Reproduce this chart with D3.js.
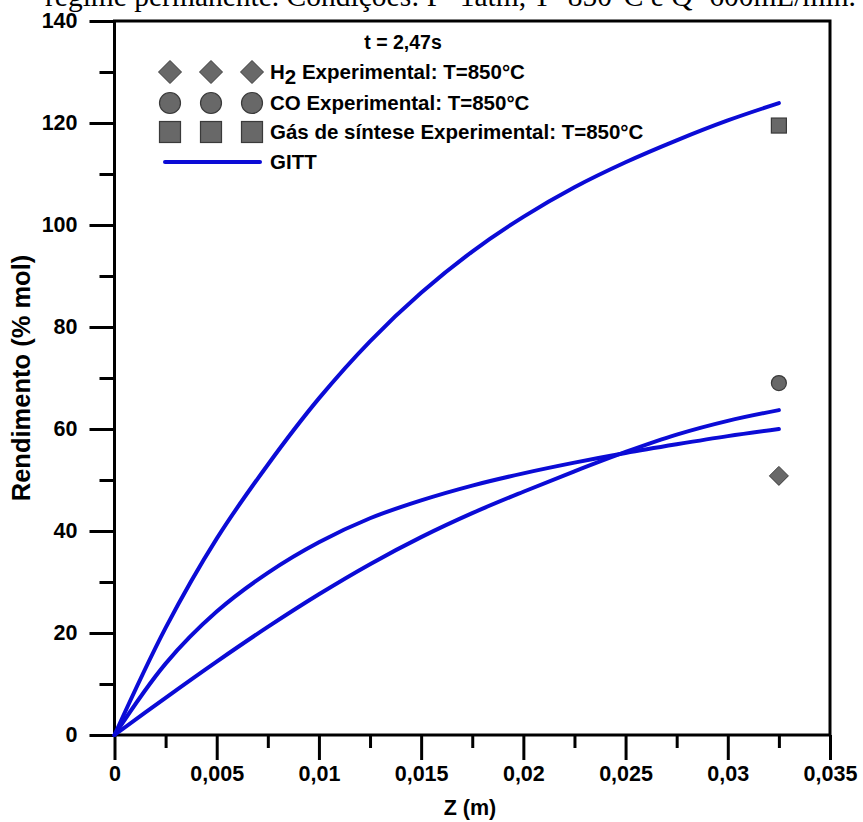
<!DOCTYPE html>
<html>
<head>
<meta charset="utf-8">
<script src="https://cdn.jsdelivr.net/npm/d3@7"></script>
<style>
  html, body { margin: 0; padding: 0; background: #fff; }
  svg { display: block; }
  text { font-family: "Liberation Sans", Arial, sans-serif; }
</style>
</head>
<body>
<svg id="chart" width="863" height="822"></svg>
<script>
// Axial position along the reactor (m)
const zGitt = [0, 0.0025, 0.005, 0.0075, 0.01, 0.0125, 0.015, 0.0175, 0.02, 0.0225, 0.025, 0.0275, 0.03, 0.0325];
// GITT yields (% mol)
const h2Gitt     = [0, 14.0, 24.2, 31.8, 37.8, 42.5, 46.0, 48.9, 51.3, 53.4, 55.3, 57.0, 58.6, 60.0];
const coGitt     = [0, 7.3, 14.4, 21.2, 27.6, 33.5, 38.8, 43.5, 47.7, 51.7, 55.5, 58.9, 61.6, 63.7];
const syngasGitt = [0, 21.0, 38.5, 53.0, 66.0, 77.2, 86.7, 94.8, 101.6, 107.4, 112.3, 116.6, 120.5, 123.9];

// Experimental points at the reactor outlet, T = 850 °C
const zExp = [0.0325];
const h2Exp = [50.8];
const coExp = [69.0];
const syngasExp = [119.5];

// Axis ticks
const xMajor = [0, 0.005, 0.01, 0.015, 0.02, 0.025, 0.03, 0.035];
const xMajorLabels = ["0", "0,005", "0,01", "0,015", "0,02", "0,025", "0,03", "0,035"];
const xMinor = [0.0025, 0.0075, 0.0125, 0.0175, 0.0225, 0.0275, 0.0325];
const yMajor = [0, 20, 40, 60, 80, 100, 120, 140];
const yMajorLabels = ["0", "20", "40", "60", "80", "100", "120", "140"];
const yMinor = [10, 30, 50, 70, 90, 110, 130];

const legendLabels = ["Experimental: T=850°C", "CO Experimental: T=850°C", "Gás de síntese Experimental: T=850°C", "GITT"];

const svg = d3.select("#chart");
const plot = { left: 114.5, right: 830, top: 21, bottom: 735 };

const x = d3.scaleLinear().domain([0, 0.035]).range([plot.left, plot.right]);
const y = d3.scaleLinear().domain([0, 140]).range([plot.bottom, plot.top]);

const lineBlue = "#0b0bd6";
const markerFill = "#686868";
const markerStroke = "#3a3a3a";
const tickFont = "21.5px";

// Caption line (partially out of view at the top)
svg.append("text")
  .attr("x", 45).attr("y", 6)
  .style("font-family", "'Liberation Serif', 'Times New Roman', serif")
  .style("font-size", "29.5px")
  .attr("fill", "#000")
  .text("regime permanente. Condições: P=1atm, T=850°C e Q=600mL/min.");

function styleAxis(g) {
  g.selectAll(".domain").remove();
  g.selectAll("line").attr("stroke", "#000").attr("stroke-width", 3);
  g.selectAll("text")
    .attr("fill", "#000")
    .style("font-size", tickFont).style("font-weight", "bold");
}

// Bottom axis: minor ticks, then major ticks with labels
svg.append("g").attr("transform", `translate(0,${plot.bottom})`)
  .call(d3.axisBottom(x).tickValues(xMinor).tickSize(13).tickFormat(""))
  .call(styleAxis);
svg.append("g").attr("transform", `translate(0,${plot.bottom})`)
  .call(d3.axisBottom(x).tickValues(xMajor).tickSize(25).tickPadding(6)
    .tickFormat((d, i) => xMajorLabels[i]))
  .call(styleAxis);

// Left axis: minor ticks, then major ticks with labels
svg.append("g").attr("transform", `translate(${plot.left},0)`)
  .call(d3.axisLeft(y).tickValues(yMinor).tickSize(15).tickFormat(""))
  .call(styleAxis);
svg.append("g").attr("transform", `translate(${plot.left},0)`)
  .call(d3.axisLeft(y).tickValues(yMajor).tickSize(25).tickPadding(12)
    .tickFormat((d, i) => yMajorLabels[i]))
  .call(styleAxis);

// Plot frame
svg.append("rect")
  .attr("x", plot.left).attr("y", plot.top)
  .attr("width", plot.right - plot.left).attr("height", plot.bottom - plot.top)
  .attr("fill", "none").attr("stroke", "#000").attr("stroke-width", 3);

// Axis titles
svg.append("text")
  .attr("x", 470).attr("y", 815)
  .attr("text-anchor", "middle")
  .style("font-size", "21.5px").style("font-weight", "bold")
  .text("Z (m)");

svg.append("text")
  .attr("transform", `translate(30,${(plot.top + plot.bottom) / 2}) rotate(-90)`)
  .attr("text-anchor", "middle")
  .style("font-size", "25.5px").style("font-weight", "bold")
  .text("Rendimento (% mol)");

// GITT curves
const line = d3.line()
  .x(d => x(d[0]))
  .y(d => y(d[1]))
  .curve(d3.curveCatmullRom.alpha(0.5));

[h2Gitt, coGitt, syngasGitt].forEach(series => {
  svg.append("path")
    .datum(zGitt.map((z, i) => [z, series[i]]))
    .attr("d", line)
    .attr("fill", "none")
    .attr("stroke", lineBlue)
    .attr("stroke-width", 4)
    .attr("stroke-linecap", "round");
});

// Marker shapes
function drawMarker(g, kind, cx, cy, s) {
  if (kind === "diamond") {
    g.append("path")
      .attr("d", `M${cx},${cy - s / 2}L${cx + s / 2},${cy}L${cx},${cy + s / 2}L${cx - s / 2},${cy}Z`)
      .attr("fill", markerFill).attr("stroke", markerStroke).attr("stroke-width", 1);
  } else if (kind === "circle") {
    g.append("circle").attr("cx", cx).attr("cy", cy).attr("r", s / 2)
      .attr("fill", markerFill).attr("stroke", markerStroke).attr("stroke-width", 1.2);
  } else {
    g.append("rect").attr("x", cx - s / 2).attr("y", cy - s / 2)
      .attr("width", s).attr("height", s)
      .attr("fill", markerFill).attr("stroke", markerStroke).attr("stroke-width", 1.2);
  }
}

// Experimental points
const pts = svg.append("g");
zExp.forEach((z, i) => {
  drawMarker(pts, "diamond", x(z), y(h2Exp[i]), 19);
  drawMarker(pts, "circle", x(z), y(coExp[i]), 15);
  drawMarker(pts, "square", x(z), y(syngasExp[i]), 15);
});

// Legend
const leg = svg.append("g");
leg.append("text")
  .attr("x", 403).attr("y", 49)
  .attr("text-anchor", "middle")
  .style("font-size", "19.5px").style("font-weight", "bold")
  .text("t = 2,47s");

const legX = [170, 211, 252];
const rowsY = [72, 103, 132, 162];
const kinds = ["diamond", "circle", "square"];
kinds.forEach((k, r) => {
  legX.forEach(cx => drawMarker(leg, k, cx, rowsY[r], k === "diamond" ? 23 : 21));
});

// H2 row with subscript
const t0 = leg.append("text")
  .attr("x", 270).attr("y", rowsY[0] + 7)
  .style("font-size", "20.5px").style("font-weight", "bold");
t0.append("tspan").text("H");
t0.append("tspan").attr("dy", 5).text("2");
t0.append("tspan").attr("dy", -5).text(" " + legendLabels[0]);

[1, 2, 3].forEach(r => {
  leg.append("text")
    .attr("x", 270).attr("y", rowsY[r] + 7)
    .style("font-size", "20.5px").style("font-weight", "bold")
    .text(legendLabels[r]);
});

leg.append("line")
  .attr("x1", 165).attr("x2", 260)
  .attr("y1", rowsY[3]).attr("y2", rowsY[3])
  .attr("stroke", lineBlue).attr("stroke-width", 4)
  .attr("stroke-linecap", "round");
</script>
</body>
</html>
